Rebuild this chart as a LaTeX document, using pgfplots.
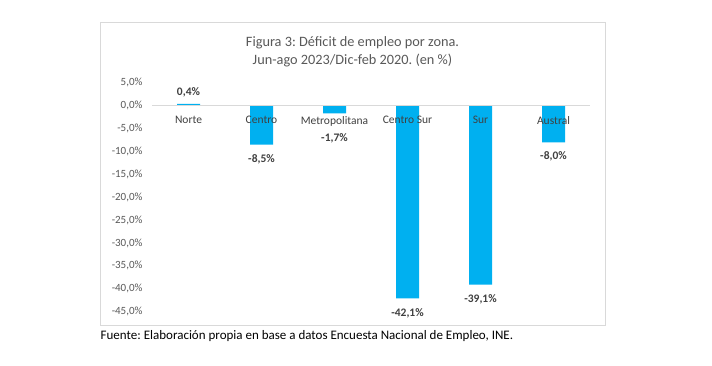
\documentclass[border=0pt]{standalone}
\usepackage{pgfplots}
\pgfplotsset{compat=1.18}
\usepackage{fontspec}
\setmainfont{Carlito}
\frenchspacing
\definecolor{barblue}{HTML}{00B0F0}
\definecolor{txtgrey}{HTML}{595959}
\definecolor{lblgrey}{HTML}{404040}
\definecolor{linegrey}{HTML}{D9D9D9}
\begin{document}
\begin{tikzpicture}
\path[use as bounding box] (0,0) rectangle (712pt,-365pt);
\fill[white] (0,0) rectangle (712pt,-365pt);
\draw[linegrey, line width=0.8pt] (100pt,-22pt) rectangle (605pt,-325pt);
\node[text=txtgrey, font=\fontsize{14.3}{18.3}\selectfont, align=center] at (352.5pt,-52pt)
  {Figura 3: Déficit de empleo por zona.\\Jun-ago 2023/Dic-feb 2020. (en \%)};
\node[anchor=west, font=\fontsize{13}{15}\selectfont, text=black, inner sep=0pt] at (100.5pt,-336pt)
  {Fuente: Elaboración propia en base a datos Encuesta Nacional de Empleo, INE.};
\begin{axis}[
  at={(152pt,-311.7pt)}, anchor=south west,
  scale only axis, width=438pt, height=228.9pt,
  xmin=-0.5, xmax=5.5, ymin=-45, ymax=5,
  axis on top,
  axis x line=middle, axis y line=left,
  x axis line style={-, draw=linegrey, line width=0.8pt},
  y axis line style={draw=none},
  major tick length=0pt,
  xtick=data,
  xticklabels={Norte,Centro,Metropolitana,Centro Sur,Sur,Austral},
  xticklabel style={text=lblgrey, font=\fontsize{11.5}{13}\selectfont, anchor=north, yshift=-7pt},
  ytick={-45,-40,...,5},
  yticklabel={\pgfmathprintnumber[fixed,fixed zerofill,precision=1,use comma]{\tick}\%},
  yticklabel style={text=txtgrey, font=\fontsize{11}{13}\selectfont, xshift=-6pt},
  /pgf/number format/assume math mode=true,
  ybar, bar width=23pt,
  clip=false,
  nodes near coords={\pgfmathprintnumber[fixed,fixed zerofill,precision=1,use comma,assume math mode=true]{\pgfplotspointmeta}\%},
  nodes near coords style={text=lblgrey, font=\bfseries\fontsize{11.5}{13}\selectfont, inner sep=7pt},
]
\addplot[fill=barblue, draw=none,
  coordinate style/.condition={x==2}{yshift=-12.5pt},
  coordinate style/.condition={x!=2 && y<0}{yshift=-2.5pt}]
  coordinates {(0,0.4) (1,-8.5) (2,-1.7) (3,-42.1) (4,-39.1) (5,-8.0)};
\end{axis}
\end{tikzpicture}
\end{document}
